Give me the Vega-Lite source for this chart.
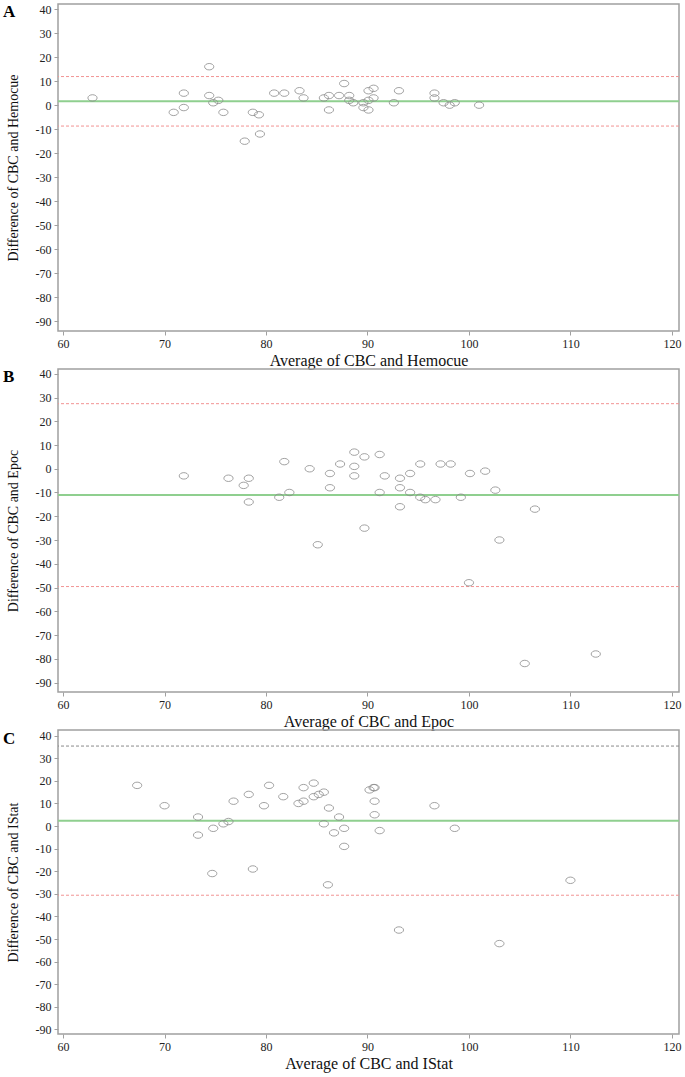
{
  "$schema": "https://vega.github.io/schema/vega-lite/v6.json",
  "padding": {"left": 2, "top": 2, "right": 1, "bottom": 2},
  "config": {
    "font": "Liberation Serif",
    "view": {"stroke": "#a0a0a0", "strokeWidth": 1.5},
    "axis": {
      "grid": false,
      "domain": false,
      "tickColor": "#a0a0a0",
      "tickSize": 4,
      "labelPadding": 3,
      "labelOverlap": false,
      "labelFlush": false,
      "labelFont": "Liberation Serif",
      "labelFontSize": 12,
      "labelColor": "#222222",
      "titleFont": "Liberation Serif",
      "titleFontWeight": "normal",
      "titleColor": "#111111"
    },
    "title": {"font": "Liberation Serif", "fontSize": 17, "fontWeight": "bold", "color": "#000000"}
  },
  "datasets": {
    "A": [
      {"avg": 62.9, "diff": 3}, {"avg": 70.9, "diff": -3}, {"avg": 71.9, "diff": 5}, {"avg": 71.9, "diff": -1},
      {"avg": 74.4, "diff": 16}, {"avg": 74.4, "diff": 4}, {"avg": 74.8, "diff": 1}, {"avg": 75.3, "diff": 2},
      {"avg": 75.8, "diff": -3}, {"avg": 77.9, "diff": -15}, {"avg": 78.7, "diff": -3}, {"avg": 79.3, "diff": -4},
      {"avg": 79.4, "diff": -12}, {"avg": 80.8, "diff": 5}, {"avg": 81.8, "diff": 5}, {"avg": 83.3, "diff": 6},
      {"avg": 83.7, "diff": 3}, {"avg": 85.7, "diff": 3}, {"avg": 86.2, "diff": 4}, {"avg": 86.2, "diff": -2},
      {"avg": 87.2, "diff": 4}, {"avg": 87.7, "diff": 9}, {"avg": 88.2, "diff": 4}, {"avg": 88.2, "diff": 2},
      {"avg": 88.6, "diff": 1}, {"avg": 89.6, "diff": 1}, {"avg": 89.6, "diff": -1}, {"avg": 90.1, "diff": 6},
      {"avg": 90.1, "diff": 2}, {"avg": 90.1, "diff": -2}, {"avg": 90.6, "diff": 7}, {"avg": 90.6, "diff": 3},
      {"avg": 92.6, "diff": 1}, {"avg": 93.1, "diff": 6}, {"avg": 96.6, "diff": 5}, {"avg": 96.6, "diff": 3},
      {"avg": 97.5, "diff": 1}, {"avg": 98.1, "diff": 0}, {"avg": 98.6, "diff": 1}, {"avg": 101.0, "diff": 0}
    ],
    "linesA": [{"kind": "mean", "diff": 1.6}, {"kind": "upper", "diff": 11.9}, {"kind": "lower", "diff": -8.7}],
    "B": [
      {"avg": 71.9, "diff": -3}, {"avg": 76.3, "diff": -4}, {"avg": 77.8, "diff": -7}, {"avg": 78.3, "diff": -4},
      {"avg": 78.3, "diff": -14}, {"avg": 81.3, "diff": -12}, {"avg": 81.8, "diff": 3}, {"avg": 82.3, "diff": -10},
      {"avg": 84.3, "diff": 0}, {"avg": 85.1, "diff": -32}, {"avg": 86.3, "diff": -2}, {"avg": 86.3, "diff": -8},
      {"avg": 87.3, "diff": 2}, {"avg": 88.7, "diff": 7}, {"avg": 88.7, "diff": 1}, {"avg": 88.7, "diff": -3},
      {"avg": 89.7, "diff": 5}, {"avg": 89.7, "diff": -25}, {"avg": 91.2, "diff": 6}, {"avg": 91.2, "diff": -10},
      {"avg": 91.7, "diff": -3}, {"avg": 93.2, "diff": -4}, {"avg": 93.2, "diff": -8}, {"avg": 93.2, "diff": -16},
      {"avg": 94.2, "diff": -2}, {"avg": 94.2, "diff": -10}, {"avg": 95.2, "diff": 2}, {"avg": 95.2, "diff": -12},
      {"avg": 95.7, "diff": -13}, {"avg": 96.7, "diff": -13}, {"avg": 97.2, "diff": 2}, {"avg": 98.2, "diff": 2},
      {"avg": 99.2, "diff": -12}, {"avg": 100.1, "diff": -2}, {"avg": 100.0, "diff": -48}, {"avg": 101.6, "diff": -1},
      {"avg": 102.6, "diff": -9}, {"avg": 103.0, "diff": -30}, {"avg": 105.5, "diff": -82}, {"avg": 106.5, "diff": -17},
      {"avg": 112.5, "diff": -78}
    ],
    "linesB": [{"kind": "mean", "diff": -11.1}, {"kind": "upper", "diff": 27.4}, {"kind": "lower", "diff": -49.6}],
    "C": [
      {"avg": 67.3, "diff": 18}, {"avg": 70.0, "diff": 9}, {"avg": 73.3, "diff": 4}, {"avg": 73.3, "diff": -4},
      {"avg": 74.8, "diff": -1}, {"avg": 74.7, "diff": -21}, {"avg": 75.8, "diff": 1}, {"avg": 76.3, "diff": 2},
      {"avg": 76.8, "diff": 11}, {"avg": 78.3, "diff": 14}, {"avg": 78.7, "diff": -19}, {"avg": 79.8, "diff": 9},
      {"avg": 80.3, "diff": 18}, {"avg": 81.7, "diff": 13}, {"avg": 83.2, "diff": 10}, {"avg": 83.7, "diff": 11},
      {"avg": 83.7, "diff": 17}, {"avg": 84.7, "diff": 13}, {"avg": 84.7, "diff": 19}, {"avg": 85.2, "diff": 14},
      {"avg": 85.7, "diff": 15}, {"avg": 85.7, "diff": 1}, {"avg": 86.1, "diff": -26}, {"avg": 86.2, "diff": 8},
      {"avg": 86.7, "diff": -3}, {"avg": 87.2, "diff": 4}, {"avg": 87.7, "diff": -1}, {"avg": 87.7, "diff": -9},
      {"avg": 90.2, "diff": 16}, {"avg": 90.7, "diff": 17}, {"avg": 90.6, "diff": 17}, {"avg": 90.7, "diff": 11},
      {"avg": 90.7, "diff": 5}, {"avg": 91.2, "diff": -2}, {"avg": 93.1, "diff": -46}, {"avg": 96.6, "diff": 9},
      {"avg": 98.6, "diff": -1}, {"avg": 103.0, "diff": -52}, {"avg": 110.0, "diff": -24}
    ],
    "linesC": [{"kind": "mean", "diff": 2.4}, {"kind": "upper", "diff": 35.4}, {"kind": "lower", "diff": -30.6}]
  },
  "spacing": -8,
  "vconcat": [
    {
      "width": 621, "height": 327,
      "title": {"text": "A", "anchor": "start", "frame": "bounds", "offset": -18, "baseline": "top", "dx": -3},
      "encoding": {
        "y": {"field": "diff", "type": "quantitative", "scale": {"domain": [-94, 42.1], "nice": false, "zero": false},
          "axis": {"title": "Difference of CBC and Hemocue", "titleFontSize": 14, "titlePadding": 15, "labelOverlap": false, "values": [40, 30, 20, 10, 0, -10, -20, -30, -40, -50, -60, -70, -80, -90], "labelExpr": "'' + datum.value"}}
      },
      "layer": [
        {"data": {"name": "linesA"}, "transform": [{"filter": "datum.kind == 'mean'"}],
         "mark": {"type": "rule", "color": "#8fcf8f", "strokeWidth": 2}, "encoding": {}},
        {"data": {"name": "linesA"}, "transform": [{"filter": "datum.kind != 'mean'"}],
         "mark": {"type": "rule", "color": "#f29393", "strokeWidth": 1, "strokeDash": [3, 2]}, "encoding": {}},
        {"data": {"name": "A"},
         "mark": {"type": "point", "shape": "M -1 0 A 1 0.7 0 1 0 1 0 A 1 0.7 0 1 0 -1 0 Z", "size": 85, "filled": false, "color": "#8a8a8a", "strokeWidth": 0.8, "opacity": 1},
         "encoding": {
           "x": {"field": "avg", "type": "quantitative", "scale": {"domain": [59.5, 120.7], "nice": false, "zero": false},
             "axis": {"title": "Average of CBC and Hemocue", "titleFontSize": 16, "titlePadding": 3, "labelOverlap": false, "values": [60, 70, 80, 90, 100, 110, 120]}}}}
      ]
    },
    {
      "width": 621, "height": 323,
      "title": {"text": "B", "anchor": "start", "frame": "bounds", "offset": -18, "baseline": "top", "dx": -3},
      "encoding": {
        "y": {"field": "diff", "type": "quantitative", "scale": {"domain": [-94, 42], "nice": false, "zero": false},
          "axis": {"title": "Difference of CBC and Epoc", "titleFontSize": 14, "titlePadding": 15, "labelOverlap": false, "values": [40, 30, 20, 10, 0, -10, -20, -30, -40, -50, -60, -70, -80, -90], "labelExpr": "'' + datum.value"}}
      },
      "layer": [
        {"data": {"name": "linesB"}, "transform": [{"filter": "datum.kind == 'mean'"}],
         "mark": {"type": "rule", "color": "#8fcf8f", "strokeWidth": 2}, "encoding": {}},
        {"data": {"name": "linesB"}, "transform": [{"filter": "datum.kind != 'mean'"}],
         "mark": {"type": "rule", "color": "#f29393", "strokeWidth": 1, "strokeDash": [3, 2]}, "encoding": {}},
        {"data": {"name": "B"},
         "mark": {"type": "point", "shape": "M -1 0 A 1 0.7 0 1 0 1 0 A 1 0.7 0 1 0 -1 0 Z", "size": 85, "filled": false, "color": "#8a8a8a", "strokeWidth": 0.8, "opacity": 1},
         "encoding": {
           "x": {"field": "avg", "type": "quantitative", "scale": {"domain": [59.5, 120.7], "nice": false, "zero": false},
             "axis": {"title": "Average of CBC and Epoc", "titleFontSize": 16, "titlePadding": 3, "labelOverlap": false, "values": [60, 70, 80, 90, 100, 110, 120]}}}}
      ]
    },
    {
      "width": 621, "height": 304,
      "title": {"text": "C", "anchor": "start", "frame": "bounds", "offset": -18, "baseline": "top", "dx": -3},
      "encoding": {
        "y": {"field": "diff", "type": "quantitative", "scale": {"domain": [-92, 42.5], "nice": false, "zero": false},
          "axis": {"title": "Difference of CBC and IStat", "titleFontSize": 14, "titlePadding": 15, "labelOverlap": false, "values": [40, 30, 20, 10, 0, -10, -20, -30, -40, -50, -60, -70, -80, -90], "labelExpr": "'' + datum.value"}}
      },
      "layer": [
        {"data": {"name": "linesC"}, "transform": [{"filter": "datum.kind == 'mean'"}],
         "mark": {"type": "rule", "color": "#8fcf8f", "strokeWidth": 2}, "encoding": {}},
        {"data": {"name": "linesC"}, "transform": [{"filter": "datum.kind == 'upper'"}],
         "mark": {"type": "rule", "color": "#8a8a8a", "strokeWidth": 1, "strokeDash": [3, 2]}, "encoding": {}},
        {"data": {"name": "linesC"}, "transform": [{"filter": "datum.kind == 'lower'"}],
         "mark": {"type": "rule", "color": "#f29393", "strokeWidth": 1, "strokeDash": [3, 2]}, "encoding": {}},
        {"data": {"name": "C"},
         "mark": {"type": "point", "shape": "M -1 0 A 1 0.7 0 1 0 1 0 A 1 0.7 0 1 0 -1 0 Z", "size": 85, "filled": false, "color": "#8a8a8a", "strokeWidth": 0.8, "opacity": 1},
         "encoding": {
           "x": {"field": "avg", "type": "quantitative", "scale": {"domain": [59.5, 120.7], "nice": false, "zero": false},
             "axis": {"title": "Average of CBC and IStat", "titleFontSize": 16, "titlePadding": 3, "labelOverlap": false, "values": [60, 70, 80, 90, 100, 110, 120]}}}}
      ]
    }
  ]
}
